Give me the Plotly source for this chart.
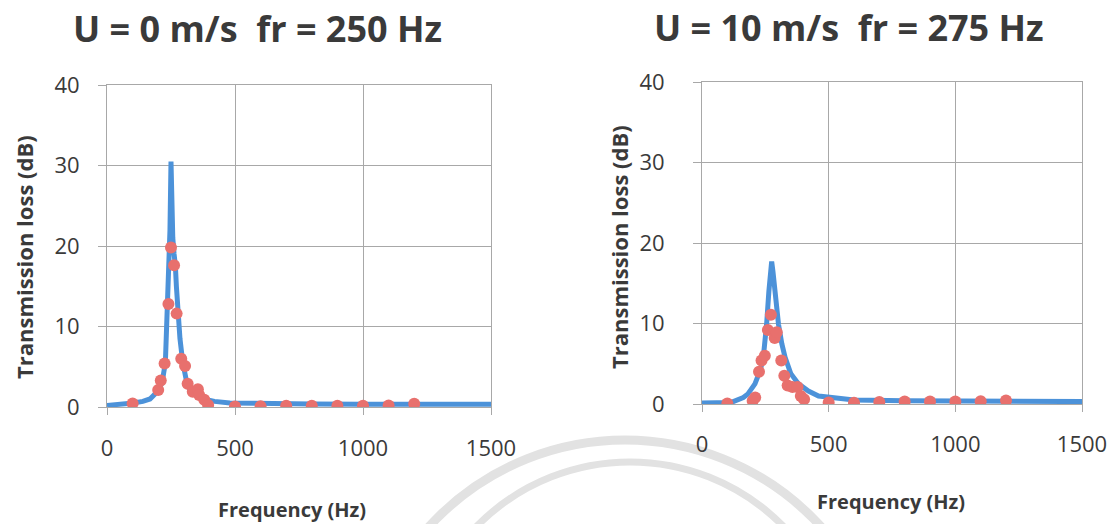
import plotly.graph_objects as go

# ---------------- data ----------------
# U = 0 m/s, fr = 250 Hz : predicted curve
freq_curve_u0 = [0, 50, 103, 140, 168, 200, 215, 228, 232, 236, 240, 243, 246, 250,
                 254, 257, 262, 267, 271, 275, 285, 296, 310, 324, 350, 376, 420,
                 480, 600, 800, 1000, 1200, 1500]
tl_curve_u0 = [0.2, 0.3, 0.5, 0.7, 1.0, 2.0, 3.0, 5.5, 8.5, 12.8, 15.5, 17.6, 22.0, 30.5,
               24.0, 21.0, 19.0, 17.6, 15.0, 12.8, 8.5, 5.5, 3.3, 2.0, 1.4, 1.0, 0.7,
               0.5, 0.42, 0.38, 0.35, 0.34, 0.33]
# U = 0 m/s : measured points
freq_meas_u0 = [100, 200, 210, 225, 240, 250, 262, 272, 290, 305, 315, 335, 355, 360,
                380, 395, 500, 600, 700, 800, 900, 1000, 1100, 1200]
tl_meas_u0 = [0.45, 2.1, 3.3, 5.4, 12.8, 19.8, 17.6, 11.6, 6.0, 5.1, 2.9, 1.9, 2.2, 1.5,
              0.9, 0.25, 0.05, 0.1, 0.15, 0.15, 0.15, 0.15, 0.2, 0.4]

# U = 10 m/s, fr = 275 Hz : predicted curve
freq_curve_u10 = [0, 50, 116, 163, 180, 209, 230, 242, 248, 255, 264, 270, 275, 280,
                  288, 295, 302, 315, 328, 350, 381, 420, 460, 513, 600, 800, 1000, 1500]
tl_curve_u10 = [0.12, 0.15, 0.2, 0.8, 1.2, 2.5, 4.2, 5.8, 7.5, 9.9, 14.0, 16.5, 17.7, 16.5,
                14.0, 11.8, 9.9, 7.5, 5.8, 3.8, 2.5, 1.6, 1.0, 0.8, 0.5, 0.4, 0.35, 0.3]
# U = 10 m/s : measured points
freq_meas_u10 = [100, 200, 210, 225, 235, 248, 260, 272, 287, 295, 313, 325, 338, 357,
                 377, 390, 403, 500, 600, 700, 800, 900, 1000, 1100, 1200]
tl_meas_u10 = [0.05, 0.4, 0.8, 4.0, 5.4, 6.0, 9.2, 11.1, 8.2, 8.9, 5.4, 3.5, 2.3, 2.1,
               2.1, 1.0, 0.6, 0.2, 0.15, 0.25, 0.3, 0.3, 0.3, 0.35, 0.45]

x_ticks = [0, 500, 1000, 1500]
y_ticks = [0, 10, 20, 30, 40]
titles = ["U = 0 m/s\u00a0 fr = 250 Hz", "U = 10 m/s\u00a0 fr = 275 Hz"]
x_title = "Frequency (Hz)"
y_title = "Transmission loss (dB)"

# ---------------- styling ----------------
W, H = 1120, 524
LINE_C = "#4C92D9"
DOT_C = "#E8706D"
GRID_C = "#A8A8A8"
TXT_C = "#3A3A3A"
FONT = "Open Sans"

def px_x(p):
    return p / W

def px_y(p):
    return 1 - p / H

fig = go.Figure()

fig.add_trace(go.Scatter(x=freq_curve_u0, y=tl_curve_u0, mode="lines",
                         line=dict(color=LINE_C, width=5), xaxis="x", yaxis="y",
                         showlegend=False, hoverinfo="skip"))
fig.add_trace(go.Scatter(x=freq_meas_u0, y=tl_meas_u0, mode="markers",
                         marker=dict(color=DOT_C, size=12, line=dict(width=0)),
                         xaxis="x", yaxis="y", showlegend=False))
fig.add_trace(go.Scatter(x=freq_curve_u10, y=tl_curve_u10, mode="lines",
                         line=dict(color=LINE_C, width=5), xaxis="x2", yaxis="y2",
                         showlegend=False, hoverinfo="skip"))
fig.add_trace(go.Scatter(x=freq_meas_u10, y=tl_meas_u10, mode="markers",
                         marker=dict(color=DOT_C, size=12, line=dict(width=0)),
                         xaxis="x2", yaxis="y2", showlegend=False))

def xax(domain, anchor, standoff):
    return dict(domain=domain, anchor=anchor, range=[0, 1500], tickvals=x_ticks,
                showgrid=True, gridcolor=GRID_C, gridwidth=1, zeroline=False,
                showline=True, linecolor=GRID_C, linewidth=1, mirror=True,
                ticks="outside", ticklen=7, tickcolor=GRID_C, ticklabelstandoff=standoff,
                tickfont=dict(family=FONT, size=22, color=TXT_C), automargin=False,
                fixedrange=True)

def yax(domain, anchor, standoff):
    return dict(domain=domain, anchor=anchor, range=[0, 40], tickvals=y_ticks,
                showgrid=True, gridcolor=GRID_C, gridwidth=1, zeroline=False,
                showline=True, linecolor=GRID_C, linewidth=1, mirror=True,
                ticks="outside", ticklen=8, tickcolor=GRID_C, ticklabelstandoff=standoff,
                tickfont=dict(family=FONT, size=22, color=TXT_C), automargin=False,
                fixedrange=True)

def ann(text, x, y, size, angle=0):
    return dict(text=text, x=px_x(x), y=px_y(y), xref="paper", yref="paper",
                xanchor="center", yanchor="middle", textangle=angle, showarrow=False,
                font=dict(family=FONT, size=size, color=TXT_C))

annotations = [
    ann(f"<b>{titles[0]}</b>", 257, 29, 36),
    ann(f"<b>{titles[1]}</b>", 849, 27, 36),
    ann(f"<b>{y_title}</b>", 24, 257, 22, -90),
    ann(f"<b>{y_title}</b>", 619, 247, 22, -90),
    ann(f"<b>{x_title}</b>", 292, 509, 20),
    ann(f"<b>{x_title}</b>", 891, 501, 20),
]

# faint watermark arcs of the scanned page (decoration)
shapes = [
    dict(type="circle", xref="paper", yref="paper", layer="below",
         x0=px_x(625 - 265), x1=px_x(625 + 265), y0=px_y(705 + 265), y1=px_y(705 - 265),
         line=dict(color="#E2E2E2", width=9)),
    dict(type="circle", xref="paper", yref="paper", layer="below",
         x0=px_x(630 - 215), x1=px_x(630 + 215), y0=px_y(677 + 215), y1=px_y(677 - 215),
         line=dict(color="#E2E2E2", width=7)),
]

fig.update_layout(
    width=W, height=H,
    margin=dict(l=0, r=0, t=0, b=0),
    paper_bgcolor="white", plot_bgcolor="rgba(0,0,0,0)",
    xaxis=xax([px_x(107), px_x(491)], "y", 15),
    yaxis=yax([px_y(407), px_y(85)], "x", 14),
    xaxis2=xax([px_x(702), px_x(1082)], "y2", 14),
    yaxis2=yax([px_y(404), px_y(82)], "x2", 24),
    annotations=annotations,
    shapes=shapes,
    showlegend=False,
)

fig.write_html("out.html")
